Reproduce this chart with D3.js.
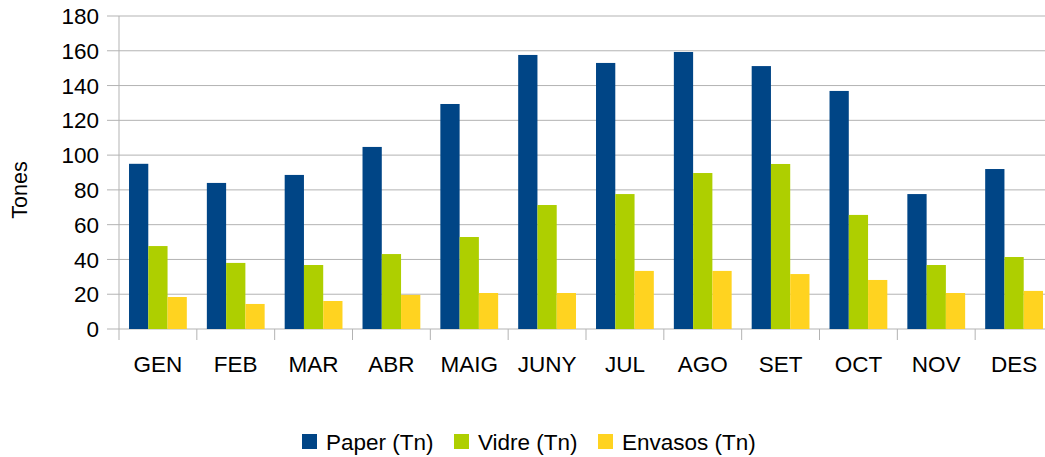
<!DOCTYPE html>
<html>
<head>
<meta charset="utf-8">
<script src="https://cdn.jsdelivr.net/npm/d3@7"></script>
<style>
  body { margin: 0; background: #fff; }
  text { font-family: "Liberation Sans", Arial, sans-serif; fill: #000; }
</style>
</head>
<body>
<div id="chart"></div>
<script>
var months = ["GEN", "FEB", "MAR", "ABR", "MAIG", "JUNY", "JUL", "AGO", "SET", "OCT", "NOV", "DES"];
var seriesNames = ["Paper (Tn)", "Vidre (Tn)", "Envasos (Tn)"];
var paper = [95, 84, 88.6, 104.7, 129.4, 157.6, 153, 159.3, 151.2, 136.9, 77.6, 92];
var vidre = [47.7, 38, 36.8, 43.1, 52.9, 71.3, 77.6, 89.7, 94.9, 65.6, 36.8, 41.4];
var envasos = [18.4, 14.4, 16.1, 19.6, 20.7, 20.7, 33.4, 33.4, 31.6, 28.2, 20.7, 21.9];
var yTicks = [0, 20, 40, 60, 80, 100, 120, 140, 160, 180];
var colors = ["#004586", "#aecf00", "#ffd320"];

var svgWidth = 1045;
var svgHeight = 457;
var margin = { top: 16, left: 119 };
var width = 934;
var height = 313;

var svg = d3.select("#chart")
  .append("svg")
  .attr("width", svgWidth)
  .attr("height", svgHeight);

var chartGroup = svg.append("g")
  .attr("transform", `translate(${margin.left}, ${margin.top})`);

var data = months.map(function(m, i) {
  return { month: m, values: [paper[i], vidre[i], envasos[i]] };
});

var xScale = d3.scaleBand()
  .domain(months)
  .range([0, width])
  .paddingInner(0)
  .paddingOuter(0);

var innerScale = d3.scaleBand()
  .domain([0, 1, 2])
  .range([0, xScale.bandwidth()])
  .paddingOuter(0.52)
  .paddingInner(0);

var yScale = d3.scaleLinear()
  .domain([0, 180])
  .range([height, 0]);

// gridlines
chartGroup.append("g")
  .selectAll("line")
  .data(yTicks)
  .enter()
  .append("line")
  .attr("x1", -12)
  .attr("x2", width)
  .attr("y1", d => yScale(d))
  .attr("y2", d => yScale(d))
  .attr("stroke", "#b3b3b3")
  .attr("stroke-width", 1);

// y labels
chartGroup.append("g")
  .selectAll("text")
  .data(yTicks)
  .enter()
  .append("text")
  .attr("x", -20)
  .attr("y", d => yScale(d))
  .attr("dy", "0.36em")
  .attr("text-anchor", "end")
  .style("font-size", "22.5px")
  .text(d => d);

// x axis ticks
chartGroup.append("g")
  .selectAll("line")
  .data(d3.range(months.length + 1))
  .enter()
  .append("line")
  .attr("x1", i => i * xScale.step())
  .attr("x2", i => i * xScale.step())
  .attr("y1", height)
  .attr("y2", height + 11)
  .attr("stroke", "#b3b3b3");

// left axis line
chartGroup.append("line")
  .attr("x1", 0).attr("x2", 0)
  .attr("y1", 0).attr("y2", height)
  .attr("stroke", "#b3b3b3");

// bars
var groups = chartGroup.selectAll(".month")
  .data(data)
  .enter()
  .append("g")
  .attr("transform", d => `translate(${xScale(d.month)}, 0)`);

groups.selectAll("rect")
  .data(d => d.values)
  .enter()
  .append("rect")
  .attr("x", (d, i) => innerScale(i))
  .attr("width", innerScale.bandwidth())
  .attr("y", d => yScale(d))
  .attr("height", d => height - yScale(d))
  .attr("fill", (d, i) => colors[i]);

// x labels
chartGroup.append("g")
  .selectAll("text")
  .data(months)
  .enter()
  .append("text")
  .attr("x", d => xScale(d) + xScale.bandwidth() / 2)
  .attr("y", height + 43)
  .attr("text-anchor", "middle")
  .style("font-size", "22.5px")
  .text(d => d);

// axis title
svg.append("text")
  .attr("transform", `translate(27, 190) rotate(-90)`)
  .attr("text-anchor", "middle")
  .style("font-size", "21.5px")
  .text("Tones");

// legend
var legendX = [302, 454, 598];
var legend = svg.append("g");
seriesNames.forEach(function(name, i) {
  legend.append("rect")
    .attr("x", legendX[i])
    .attr("y", 434)
    .attr("width", 15)
    .attr("height", 15)
    .attr("fill", colors[i]);
  legend.append("text")
    .attr("x", legendX[i] + 24)
    .attr("y", 450)
    .style("font-size", "22.5px")
    .text(name);
});
</script>
</body>
</html>
